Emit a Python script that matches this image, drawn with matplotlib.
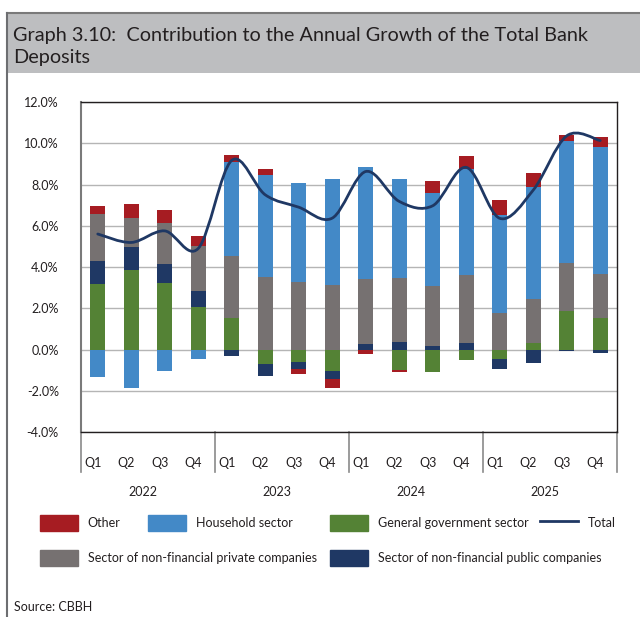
import numpy as np
import matplotlib
matplotlib.use('Agg')
import matplotlib.pyplot as plt
from matplotlib.path import Path
from matplotlib.patches import PathPatch, Rectangle, Patch
from matplotlib.lines import Line2D
from matplotlib.ticker import FuncFormatter
from matplotlib.transforms import ScaledTranslation

plt.rcParams['font.family'] = ['Lato', 'DejaVu Sans']

# Contributions to annual growth of total bank deposits, p.p.
quarters = ['Q1', 'Q2', 'Q3', 'Q4'] * 4
years = ['2022', '2023', '2024', '2025']

general_gov = [3.18, 3.86, 3.21, 2.06, 1.51, -0.70, -0.59, -1.03,
               0.00, -1.00, -1.08, -0.51, -0.44, 0.32, 1.86, 1.55]
public_comp = [1.13, 1.10, 0.94, 0.76, -0.32, -0.57, -0.36, -0.42,
               0.28, 0.35, 0.17, 0.30, -0.50, -0.65, -0.08, -0.16]
private_comp = [2.27, 1.44, 1.97, 2.20, 3.00, 3.50, 3.26, 3.13,
                3.13, 3.14, 2.93, 3.32, 1.75, 2.12, 2.31, 2.12]
household = [-1.35, -1.88, -1.05, -0.48, 4.56, 4.97, 4.81, 5.16,
             5.42, 4.77, 4.48, 5.13, 4.75, 5.46, 5.94, 6.17]
other = [0.39, 0.65, 0.66, 0.47, 0.36, 0.28, -0.24, -0.40,
         -0.23, -0.11, 0.57, 0.65, 0.74, 0.65, 0.29, 0.45]
total = [5.60, 5.19, 5.75, 4.90, 9.17, 7.50, 6.90, 6.37,
         8.63, 7.18, 6.97, 8.83, 6.36, 7.73, 10.36, 10.13]

series = [
    ('General government sector', general_gov, '#548235'),
    ('Sector of non-financial public companies', public_comp, '#1F3864'),
    ('Sector of non-financial private companies', private_comp, '#767171'),
    ('Household sector', household, '#4389C7'),
    ('Other', other, '#A61C22'),
]
line_color = '#1F3864'

fig = plt.figure(figsize=(6.4, 6.17), dpi=100)
W, H = 640, 617

# title band and frame
fig.patches.append(Rectangle((7 / W, 1 - 73 / H), 1 - 7 / W, 60 / H,
                             transform=fig.transFigure, facecolor='#BDBEC0',
                             edgecolor='none', zorder=0))
fig.add_artist(Line2D([7 / W, 1], [1 - 13 / H] * 2, color='#7a7a7a', lw=1.5))
fig.add_artist(Line2D([7 / W] * 2, [0, 1 - 13 / H], color='#6d6e71', lw=1.5))
fig.text(13 / W, 1 - 35 / H, 'Graph 3.10:  Contribution to the Annual Growth of the Total Bank',
         fontsize=14.3, color='#231f20', va='center', ha='left')
fig.text(13 / W, 1 - 58 / H, 'Deposits',
         fontsize=14.3, color='#231f20', va='center', ha='left')

ax = fig.add_axes([81 / W, 1 - 432 / H, 536 / W, 330 / H])
x = np.arange(len(total))

pos_base = np.zeros(len(x))
neg_base = np.zeros(len(x))
for name, vals, color in series:
    v = np.array(vals)
    bottom = np.where(v >= 0, pos_base, neg_base)
    ax.bar(x, v, width=0.45, bottom=bottom, color=color, zorder=2)
    pos_base += np.clip(v, 0, None)
    neg_base += np.clip(v, None, 0)

# smoothed total line as cubic Bezier segments through each quarter
pts = np.column_stack([x, total])
ext = np.vstack([pts[0], pts, pts[-1]])
verts = [tuple(pts[0])]
codes = [Path.MOVETO]
for i in range(len(pts) - 1):
    p0, p1, p2, p3 = ext[i], ext[i + 1], ext[i + 2], ext[i + 3]
    c1 = p1 + (p2 - p0) / 6
    c2 = p2 - (p3 - p1) / 6
    verts += [tuple(c1), tuple(c2), tuple(p2)]
    codes += [Path.CURVE4] * 3
ax.add_patch(PathPatch(Path(verts, codes), facecolor='none', edgecolor=line_color,
                       lw=2.0, zorder=3, capstyle='round'))

ax.set_xlim(-0.5, len(x) - 0.5)
ax.set_ylim(-4, 12)
ax.set_yticks(np.arange(-4, 12.1, 2))
ax.yaxis.set_major_formatter(FuncFormatter(lambda v, p: f'{v:.1f}%'))
ax.grid(axis='y', color='#b5b5b5', lw=1, zorder=0)
ax.set_axisbelow(True)
ax.set_xticks(x)
ax.set_xticklabels(quarters)
ax.tick_params(axis='both', length=0, labelsize=9, colors='#231f20')
ax.tick_params(axis='x', pad=18)
ax.tick_params(axis='y', pad=16)
shift = ScaledTranslation(-5 / 100, 0, fig.dpi_scale_trans)
for lbl in ax.get_xticklabels():
    lbl.set_transform(lbl.get_transform() + shift)
for s in ['top', 'right', 'bottom']:
    ax.spines[s].set_color('#231f20')
    ax.spines[s].set_linewidth(1.0)
ax.spines['left'].set_color('#7a7a7a')
ax.spines['left'].set_linewidth(1.5)

# year separators below the plot and year labels
for b in [-0.5, 3.5, 7.5, 11.5, 15.5]:
    ax.axvline(b, ymin=-40 / 330, ymax=0, color='#8a8a8a', lw=1.2, clip_on=False)
for i, yr in enumerate(years):
    ax.annotate(yr, xy=(i * 4 + 1.5, 0), xycoords=('data', 'axes fraction'),
                xytext=(-5 * 0.72, -60 * 0.72), textcoords='offset points',
                ha='center', va='center', fontsize=9, color='#231f20')

# legend entries placed individually
handles = {name: Patch(color=c) for name, _, c in series}
handles['Total'] = Line2D([], [], color=line_color, lw=2.0)
legend_spots = [
    ('Other', 40, 523), ('Household sector', 148, 523),
    ('General government sector', 330, 523), ('Total', 540, 523),
    ('Sector of non-financial private companies', 40, 558),
    ('Sector of non-financial public companies', 330, 558),
]
for name, lx, ly in legend_spots:
    fig.legend(handles=[handles[name]], labels=[name], loc='center left',
               bbox_to_anchor=(lx / W, 1 - ly / H), frameon=False, fontsize=9,
               handlelength=3.0, handleheight=1.5, handletextpad=0.8,
               borderpad=0, borderaxespad=0, labelcolor='#231f20')

fig.text(14 / W, 1 - 607 / H, 'Source: CBBH', fontsize=9, color='#231f20',
         va='center', ha='left')

fig.savefig('out.png', dpi=100)
